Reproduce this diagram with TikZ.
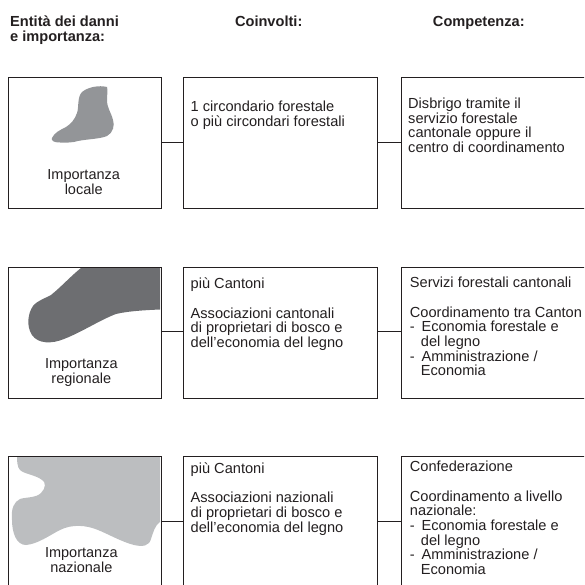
\documentclass[tikz,border=0pt]{standalone}
\usepackage{fontspec}
\setmainfont{Liberation Sans}
\definecolor{blobA}{RGB}{147,149,152}
\definecolor{blobB}{RGB}{109,110,113}
\definecolor{blobC}{RGB}{188,190,192}
\definecolor{ink}{RGB}{35,31,32}
\newcommand{\blankgap}{\\[14.6pt]}
\newcommand{\dashitem}{-\hspace{6.8pt}}
\newcommand{\hang}{\hspace{11pt}}
\tikzset{
  x=1pt,y=-1pt,
  panel/.style={draw=ink,line width=1pt,fill=none,inner sep=0pt,anchor=north west},
  link/.style={draw=ink,line width=0.9pt},
  head/.style={inner sep=0pt,anchor=north west,align=left,text=ink,font=\fontsize{14.6}{15}\selectfont\bfseries},
  headc/.style={inner sep=0pt,anchor=north,align=center,text=ink,font=\fontsize{14.6}{15}\selectfont\bfseries},
  body/.style={inner sep=0pt,anchor=north west,align=left,text=ink,font=\fontsize{14.6}{14.7}\selectfont},
  captext/.style={inner sep=0pt,anchor=north,align=center,text=ink,font=\fontsize{14.5}{15}\selectfont},
}
\begin{document}
\begin{tikzpicture}
\useasboundingbox (0,0) rectangle (584,585);
\clip (0,0) rectangle (584,585);
% headers
\node[head] (h1) at (10,16) {Entità dei danni\\e importanza:};
\node[headc] (h2) at (268.7,16) {Coinvolti:};
\node[headc] (h3) at (478.8,16) {Competenza:};
% blobs
\fill[blobA] (107,87) .. controls (99,85) and (88,87) .. (82,92)
 .. controls (77,97) and (79,108) .. (77,113) .. controls (75,119) and (71,124) .. (66,127)
 .. controls (60,130) and (54,133) .. (52,138) .. controls (51,141) and (54,142.5) .. (60,142.5)
 .. controls (65,142.5) and (72,143) .. (78,141) .. controls (88,139) and (100,139) .. (107,136)
 .. controls (113,133) and (115,125) .. (113,120) .. controls (111,112) and (107,108) .. (107,100)
 .. controls (107,95) and (108,90) .. (107,87) -- cycle;
\fill[blobB] (81,268) -- (160,268) -- (160,309.5)
 .. controls (148,310) and (128,311) .. (116,314) .. controls (100,320) and (82,332) .. (64,339)
 .. controls (52,344) and (38,344) .. (32,335) .. controls (26,326) and (28,313) .. (33,306)
 .. controls (38,300) and (46,298) .. (51,295) .. controls (61,287) and (72,275) .. (81,268) -- cycle;
\fill[blobC] (17,456) -- (160,456) -- (160,522)
 .. controls (155,525) and (153,533) .. (151,539) .. controls (149,546) and (143,547) .. (134,545)
 .. controls (122,542) and (108,534) .. (98,530) .. controls (86,525) and (72,524) .. (60,530)
 .. controls (50,535) and (38,544) .. (26,545) .. controls (16,545) and (12,532) .. (12,520)
 .. controls (11,508) and (14,502) .. (20,499) .. controls (26,497) and (36,498) .. (41,493)
 .. controls (46,488) and (46,482) .. (42,480) .. controls (36,475) and (24,474) .. (20,470)
 .. controls (17,467) and (17,460) .. (17,456) -- cycle;
% panels
\node[panel,minimum width=153pt,minimum height=131pt] (a1) at (7.7,76.7) {};
\node[panel,minimum width=194.6pt,minimum height=131pt] (b1) at (182.7,76.7) {};
\node[panel,minimum width=200pt,minimum height=131pt] (c1) at (400.7,76.7) {};
\node[panel,minimum width=153pt,minimum height=130.5pt] (a2) at (7.7,267.3) {};
\node[panel,minimum width=194.6pt,minimum height=130.5pt] (b2) at (182.7,267.3) {};
\node[panel,minimum width=200pt,minimum height=130.5pt] (c2) at (400.7,267.3) {};
\node[panel,minimum width=153pt,minimum height=140pt] (a3) at (7.7,455.7) {};
\node[panel,minimum width=194.6pt,minimum height=140pt] (b3) at (182.7,455.7) {};
\node[panel,minimum width=200pt,minimum height=140pt] (c3) at (400.7,455.7) {};
% connectors
\coordinate (j1) at (0,142.7);
\coordinate (j2) at (0,331.7);
\coordinate (j3) at (0,521);
\draw[link] (a1.east |- j1) -- (b1.west |- j1);
\draw[link] (b1.east |- j1) -- (c1.west |- j1);
\draw[link] (a2.east |- j2) -- (b2.west |- j2);
\draw[link] (b2.east |- j2) -- (c2.west |- j2);
\draw[link] (a3.east |- j3) -- (b3.west |- j3);
\draw[link] (b3.east |- j3) -- (c3.west |- j3);
% captions
\node[captext] (t1) at (83.7,169.5) {Importanza\\locale};
\node[captext] (t2) at (81.3,358.5) {Importanza\\regionale};
\node[captext] (t3) at (81.3,547.8) {Importanza\\nazionale};
% texts
\node[body] (b1t) at (190.5,100.7) {1 circondario forestale\\o più circondari forestali};
\node[body] (c1t) at (408,97.7) {Disbrigo tramite il\\servizio forestale\\cantonale oppure il\\centro di coordinamento};
\node[body] (b2t) at (190.5,278) {più Cantoni\blankgap Associazioni cantonali\\di proprietari di bosco e\\dell’economia del legno};
\node[body] (c2t) at (409.7,277) {Servizi forestali cantonali\blankgap Coordinamento tra Canton\\\dashitem Economia forestale e\\\hang del legno\\\dashitem Amministrazione /\\\hang Economia};
\node[body] (b3t) at (190.5,462.7) {più Cantoni\blankgap Associazioni nazionali\\di proprietari di bosco e\\dell’economia del legno};
\node[body] (c3t) at (409.7,461) {Confederazione\blankgap Coordinamento a livello\\nazionale:\\\dashitem Economia forestale e\\\hang del legno\\\dashitem Amministrazione /\\\hang Economia};
\end{tikzpicture}
\end{document}
